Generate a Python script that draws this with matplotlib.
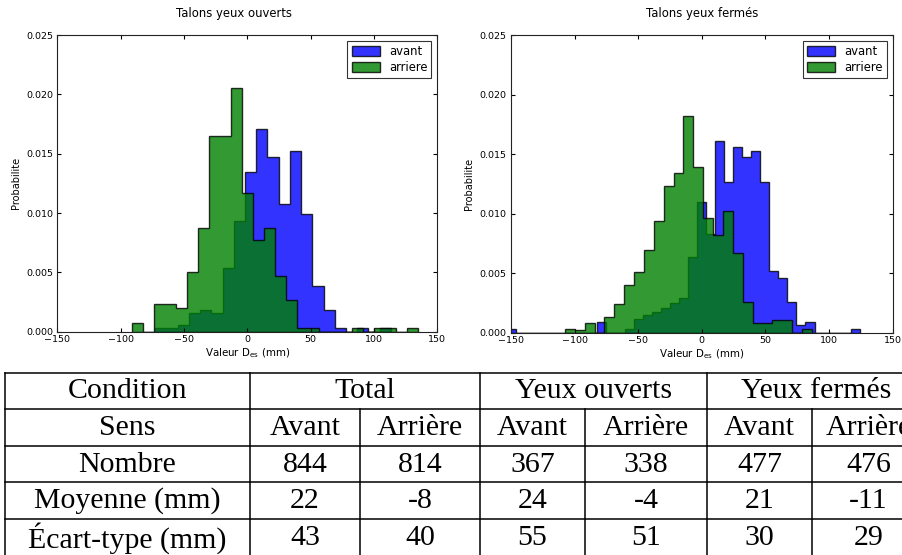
import numpy as np
import matplotlib
matplotlib.use('Agg')
import matplotlib.pyplot as plt

# histogram densities (one value per bin)
# Talons yeux ouverts
ouv_avant_range = (-72.6, 113.25)
ouv_avant = [0.00028, 0.00028, 0.00056, 0.00155, 0.00183, 0.00155, 0.0054,
             0.0093, 0.01348, 0.01705, 0.0147, 0.0108, 0.01525, 0.0099,
             0.00388, 0.00183, 0.00028, 0.0, 0.00028, 0.0, 0.00028]
ouv_arriere_range = (-91.3, 134.4)
ouv_arriere = [0.0007, 0.0, 0.00233, 0.00233, 0.002, 0.00503, 0.00876,
               0.0165, 0.0165, 0.0205, 0.0117, 0.0077, 0.0087, 0.0047,
               0.00267, 0.00034, 0.00034, 0.0, 0.0, 0.0, 0.00034, 0.0,
               0.00034, 0.00034, 0.0, 0.00034]

# Talons yeux fermes
fer_avant_range = (-153.2, 124.1)
fer_avant = [0.00028, 0.0, 0.0, 0.0, 0.0, 0.0, 0.0, 0.0, 0.0, 0.0,
             0.00087, 0.0, 0.0, 0.00028, 0.00115, 0.00149, 0.00176, 0.00205,
             0.00252, 0.00289, 0.00638, 0.011, 0.0083, 0.01613, 0.01268,
             0.01557, 0.01473, 0.01529, 0.01268, 0.0052, 0.00457, 0.0026,
             0.00065, 0.00087, 0.0, 0.0, 0.0, 0.0, 0.00028]
fer_arriere_range = (-107.6, 86.4)
fer_arriere = [0.00029, 0.00027, 0.00081, 0.0, 0.00134, 0.00241, 0.004,
               0.00507, 0.00695, 0.00938, 0.01232, 0.01339, 0.0182, 0.01389,
               0.0096, 0.0082, 0.0102, 0.00667, 0.0026, 0.00084, 0.00084,
               0.00107, 0.00107, 0.0, 0.00029]

titles = ['Talons yeux ouverts', 'Talons yeux fermés']

# table
row_labels = ['Condition', 'Sens', 'Nombre', 'Moyenne (mm)', 'Écart-type (mm)']
conditions = ['Total', 'Yeux ouverts', 'Yeux fermés']
sens = ['Avant', 'Arrière', 'Avant', 'Arrière', 'Avant', 'Arrière']
nombre = [844, 814, 367, 338, 477, 476]
moyenne = [22, -8, 24, -4, 21, -11]
ecart = [43, 40, 55, 51, 30, 29]

plt.rcParams['font.family'] = 'DejaVu Sans'
plt.rcParams['mathtext.fontset'] = 'dejavusans'
plt.rcParams['xtick.direction'] = 'in'
plt.rcParams['ytick.direction'] = 'in'
plt.rcParams['xtick.top'] = True
plt.rcParams['ytick.right'] = True
plt.rcParams['xtick.major.size'] = 3
plt.rcParams['ytick.major.size'] = 3
plt.rcParams['xtick.major.pad'] = 2
plt.rcParams['ytick.major.pad'] = 3
plt.rcParams['xtick.labelsize'] = 6.8
plt.rcParams['ytick.labelsize'] = 6.8
plt.rcParams['axes.edgecolor'] = '#222222'


def bins_from(rng, vals):
    return np.linspace(rng[0], rng[1], len(vals) + 1)


def draw_hist(ax, avant, avant_rng, arriere, arriere_rng, title, title_x=0.5):
    e1 = bins_from(avant_rng, avant)
    e2 = bins_from(arriere_rng, arriere)
    ax.hist(e1[:-1], bins=e1, weights=avant, histtype='stepfilled',
            color='b', alpha=0.8, edgecolor='black', linewidth=1, label='avant')
    ax.hist(e2[:-1], bins=e2, weights=arriere, histtype='stepfilled',
            color='g', alpha=0.8, edgecolor='black', linewidth=1, label='arriere')
    ax.set_xlim(-150, 150)
    ax.set_ylim(0, 0.025)
    ax.set_xticks([-150, -100, -50, 0, 50, 100, 150])
    ax.set_yticks([0, 0.005, 0.010, 0.015, 0.020, 0.025])
    ax.yaxis.set_major_formatter(matplotlib.ticker.FormatStrFormatter('%.3f'))
    ax.set_title(title, fontsize=8.4, pad=13, x=title_x)
    ax.set_ylabel('Probabilite', fontsize=7, labelpad=4)
    ax.set_xlabel(r'Valeur $\mathregular{D_{es}}$ (mm)', fontsize=7.4, labelpad=2)
    leg = ax.legend(loc='upper right', fontsize=8.4, fancybox=False,
                    handlelength=2.4, handleheight=0.9, borderpad=0.35,
                    labelspacing=0.25, borderaxespad=0.5)
    leg.get_frame().set_edgecolor('black')
    leg.get_frame().set_linewidth(0.8)


fig = plt.figure(figsize=(9.03, 5.55), dpi=100)

ax1 = fig.add_axes([0.0635, 0.4023, 0.4208, 0.5346])
draw_hist(ax1, ouv_avant, ouv_avant_range, ouv_arriere, ouv_arriere_range,
          titles[0], title_x=0.466)
ax2 = fig.add_axes([0.5659, 0.4005, 0.4227, 0.5364])
draw_hist(ax2, fer_avant, fer_avant_range, fer_arriere, fer_arriere_range, titles[1])

# table drawn in pixel coordinates
tab = fig.add_axes([0, 0, 1, 1], zorder=-1)
tab.set_xlim(0, 903)
tab.set_ylim(555, 0)
tab.axis('off')

col_x = [5, 250, 360, 480, 585, 707, 812, 925]
row_y = [373, 409, 446, 482, 519, 556]
lw = 1.1
for y in row_y:
    tab.plot([col_x[0], col_x[-1]], [y, y], color='black', lw=lw, clip_on=False)
# left border and the group separators cover every row
for x in [col_x[0], col_x[1], col_x[3], col_x[5]]:
    tab.plot([x, x], [row_y[0], row_y[-1]], color='black', lw=lw, clip_on=False)
# inner separators skip the merged header row
for x in [col_x[2], col_x[4], col_x[6]]:
    tab.plot([x, x], [row_y[1], row_y[-1]], color='black', lw=lw, clip_on=False)

tfont = dict(family='Liberation Serif', fontsize=21.5, ha='center', va='center')


def cell_y(i):
    return (row_y[i] + row_y[i + 1]) / 2 + 0.5


for i, lab in enumerate(row_labels):
    tab.text((col_x[0] + col_x[1]) / 2, cell_y(i), lab, **tfont)
for j, cond in enumerate(conditions):
    tab.text((col_x[1 + 2 * j] + col_x[3 + 2 * j]) / 2, cell_y(0), cond, **tfont)
for j in range(6):
    cx = (col_x[1 + j] + col_x[2 + j]) / 2
    tab.text(cx, cell_y(1), sens[j], **tfont)
    tab.text(cx, cell_y(2), str(nombre[j]), **tfont)
    tab.text(cx, cell_y(3), str(moyenne[j]), **tfont)
    tab.text(cx, cell_y(4), str(ecart[j]), **tfont)

fig.savefig('out.png', dpi=100)
